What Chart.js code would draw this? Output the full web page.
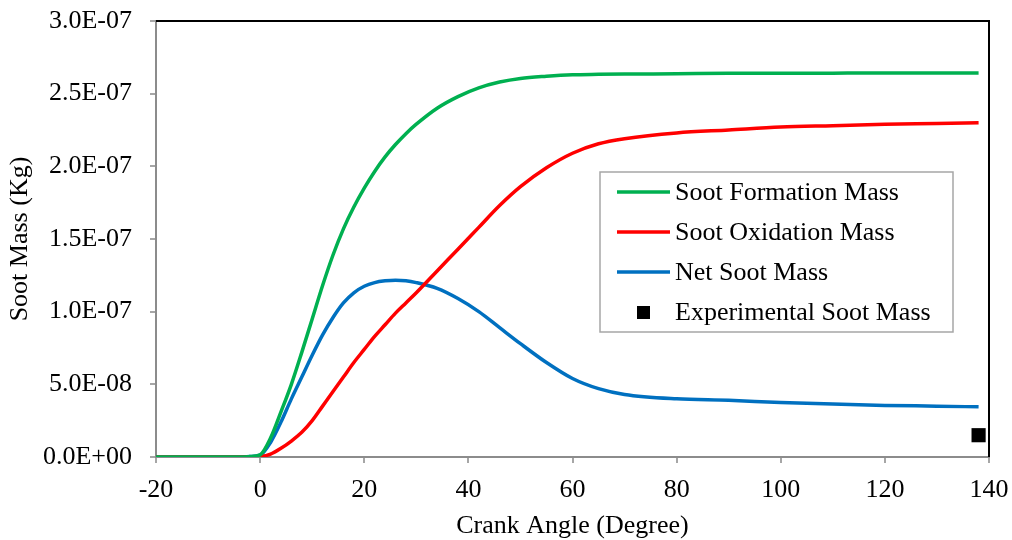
<!DOCTYPE html>
<html>
<head>
<meta charset="utf-8">
<script src="https://cdn.jsdelivr.net/npm/chart.js@4/dist/chart.umd.min.js"></script>
<style>
  html, body { margin: 0; padding: 0; background: #fff; }
  #wrap { position: relative; width: 1012px; height: 540px; }
</style>
</head>
<body>
<div id="wrap"><canvas id="sootChart" width="1012" height="540"></canvas></div>
<script>
// crank angle (degree) and soot masses (in 1e-7 kg)
const angles    = [-20, -10, -4, -2, 0, 2, 4, 6, 8, 10, 12, 14, 16, 18, 20, 22, 24, 26, 28, 30, 34, 38, 42, 46, 50, 55, 60, 65, 70, 80, 90, 100, 110, 120, 130, 138];
const formation = [0, 0, 0, 0.003, 0.015, 0.13, 0.31, 0.50, 0.72, 0.95, 1.18, 1.39, 1.57, 1.72, 1.85, 1.965, 2.065, 2.15, 2.225, 2.29, 2.40, 2.48, 2.54, 2.58, 2.605, 2.62, 2.63, 2.633, 2.635, 2.637, 2.64, 2.64, 2.641, 2.642, 2.642, 2.642];
const oxidation = [0, 0, 0, 0, 0.003, 0.02, 0.06, 0.11, 0.17, 0.25, 0.35, 0.45, 0.55, 0.65, 0.74, 0.83, 0.91, 0.99, 1.06, 1.13, 1.28, 1.43, 1.58, 1.73, 1.86, 1.99, 2.09, 2.155, 2.19, 2.23, 2.25, 2.27, 2.28, 2.29, 2.295, 2.30];
const netSoot   = [0, 0, 0, 0.003, 0.012, 0.10, 0.24, 0.40, 0.55, 0.70, 0.84, 0.96, 1.06, 1.13, 1.175, 1.20, 1.212, 1.217, 1.213, 1.20, 1.16, 1.09, 1.00, 0.89, 0.78, 0.65, 0.54, 0.47, 0.43, 0.40, 0.39, 0.375, 0.365, 0.355, 0.35, 0.345];
const expAngle  = [138];
const expMass   = [0.15];
const scaleE7 = 1e-7;

const toPoints = (xs, ys) => xs.map((x, i) => ({ x: x, y: ys[i] * scaleE7 }));

// 3.0E-07 style labels
function sciLabel(v) {
    if (Math.abs(v) < 1e-15) return '0.0E+00';
    let e = Math.floor(Math.log10(Math.abs(v)) + 1e-9);
    let m = v / Math.pow(10, e);
    let sign = e < 0 ? '-' : '+';
    return m.toFixed(1) + 'E' + sign + String(Math.abs(e)).padStart(2, '0');
}

const serif = 'Liberation Serif, "Times New Roman", serif';

// legend box drawn inside the plot
const boxLegend = {
    id: 'boxLegend',
    afterDraw(chart) {
        const ctx = chart.ctx;
        const a = chart.chartArea;
        const left = a.left + 444, top = a.top + 151, w = 353, h = 160;
        ctx.save();
        ctx.strokeStyle = '#a6a6a6';
        ctx.lineWidth = 1.5;
        ctx.fillStyle = '#fff';
        ctx.fillRect(left, top, w, h);
        ctx.strokeRect(left, top, w, h);
        ctx.font = '26px ' + serif;
        ctx.textBaseline = 'middle';
        chart.data.datasets.forEach((ds, i) => {
            const y = top + 20 + i * 40;
            if (ds.showLine === false) {
                ctx.fillStyle = ds.backgroundColor;
                ctx.fillRect(left + 37, y - 6, 13, 13);
            } else {
                ctx.strokeStyle = ds.borderColor;
                ctx.lineWidth = 3.5;
                ctx.beginPath();
                ctx.moveTo(left + 17, y);
                ctx.lineTo(left + 70, y);
                ctx.stroke();
            }
            ctx.fillStyle = '#000';
            ctx.fillText(ds.label, left + 75, y + 1);
        });
        ctx.restore();
    }
};

// black frame on the top and right of the plot
const frame = {
    id: 'frame',
    afterDatasetsDraw(chart) {
        const ctx = chart.ctx;
        const a = chart.chartArea;
        ctx.save();
        ctx.strokeStyle = '#000';
        ctx.lineWidth = 2;
        ctx.beginPath();
        ctx.moveTo(a.left, a.top);
        ctx.lineTo(a.right, a.top);
        ctx.lineTo(a.right, a.bottom);
        ctx.stroke();
        ctx.restore();
    }
};

new Chart(document.getElementById('sootChart').getContext('2d'), {
    type: 'scatter',
    data: {
        datasets: [
            { label: 'Soot Formation Mass', data: toPoints(angles, formation), showLine: true, borderColor: '#00b050', borderWidth: 3.5, pointRadius: 0, cubicInterpolationMode: 'monotone' },
            { label: 'Soot Oxidation Mass', data: toPoints(angles, oxidation), showLine: true, borderColor: '#ff0000', borderWidth: 3.5, pointRadius: 0, cubicInterpolationMode: 'monotone' },
            { label: 'Net Soot Mass', data: toPoints(angles, netSoot), showLine: true, borderColor: '#0070c0', borderWidth: 3.5, pointRadius: 0, cubicInterpolationMode: 'monotone' },
            { label: 'Experimental Soot Mass', data: toPoints(expAngle, expMass), showLine: false, pointStyle: 'rect', pointRadius: 10, backgroundColor: '#000', borderColor: '#000', borderWidth: 0 }
        ]
    },
    options: {
        responsive: false,
        animation: false,
        layout: { padding: { top: 21, right: 23, left: 0, bottom: 0 } },
        plugins: { legend: { display: false }, tooltip: { enabled: false } },
        scales: {
            x: {
                type: 'linear',
                min: -20, max: 140,
                afterFit: s => { s.height = 83; s.paddingLeft = 0; s.paddingRight = 0; },
                ticks: { stepSize: 20, color: '#000', padding: 12, font: { family: serif, size: 26 } },
                grid: { drawOnChartArea: false, tickLength: 6, color: '#a6a6a6', lineWidth: 2 },
                border: { color: '#8c8c8c', width: 2 },
                title: { display: true, text: 'Crank Angle (Degree)', color: '#000', font: { family: serif, size: 26 }, padding: { top: 0, bottom: -2 } }
            },
            y: {
                min: 0, max: 3e-7,
                afterFit: s => { s.width = 156; s.paddingTop = 0; s.paddingBottom = 0; },
                ticks: { stepSize: 0.5e-7, color: '#000', padding: 18, font: { family: serif, size: 26 }, callback: v => sciLabel(v) },
                grid: { drawOnChartArea: false, tickLength: 6, color: '#a6a6a6', lineWidth: 2 },
                border: { color: '#8c8c8c', width: 2 },
                title: { display: true, text: 'Soot Mass (Kg)', color: '#000', font: { family: serif, size: 26 }, padding: { top: 5, bottom: 0 } }
            }
        }
    },
    plugins: [frame, boxLegend]
});
</script>
</body>
</html>
